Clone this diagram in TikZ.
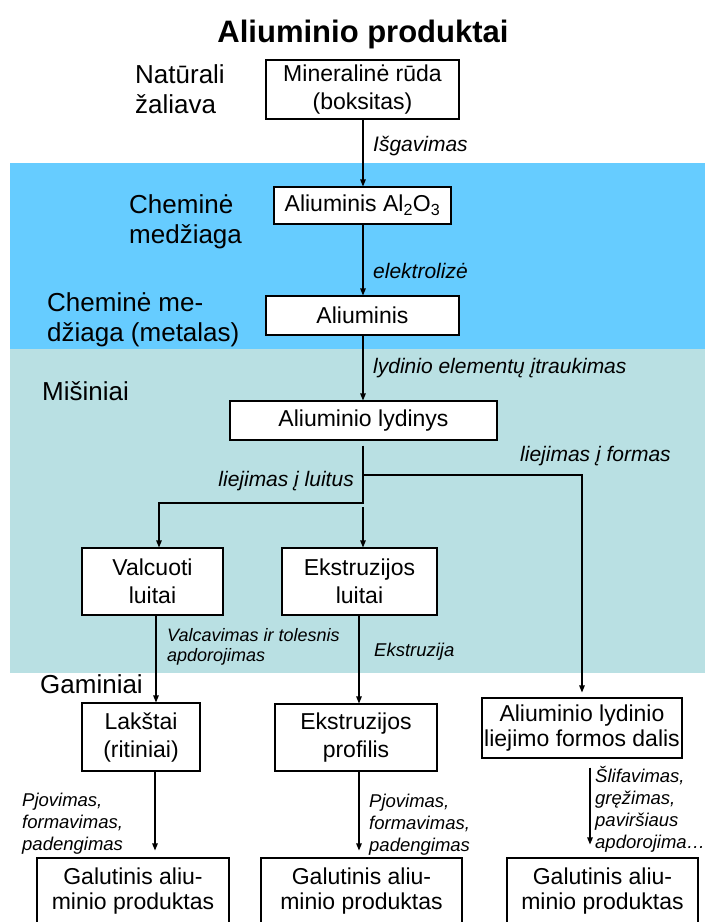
\documentclass[tikz,border=0pt]{standalone}
\usepackage{fontspec}
\setmainfont{Liberation Sans}
\usetikzlibrary{arrows.meta}
\definecolor{bandblue}{RGB}{102,204,255}
\definecolor{bandteal}{RGB}{185,224,227}
\newcommand\ttlfont{\fontsize{31}{34}\selectfont\bfseries}
\newcommand\bxfont{\fontsize{23}{28}\selectfont}
\newcommand\bxfontb{\fontsize{23}{25.5}\selectfont}
\newcommand\catfont{\fontsize{26}{30}\selectfont}
\newcommand\lblfont{\fontsize{21}{24}\selectfont\itshape}
\newcommand\smlfont{\fontsize{18.5}{22}\selectfont\itshape}
\begin{document}
\begin{tikzpicture}[x=1pt,y=-1pt,
  box/.style={draw=black, line width=1.1pt, fill=white, align=center,
              inner sep=0pt, font=\bxfont},
  boxb/.style={box, font=\bxfontb},
  cat/.style={anchor=base west, align=left, inner sep=0pt, font=\catfont},
  lbl/.style={anchor=base west, align=left, inner sep=0pt, font=\lblfont},
  sml/.style={anchor=base west, align=left, inner sep=0pt, font=\smlfont},
  conn/.style={line width=1.1pt},
  arr/.style={conn, -{Triangle[length=7pt,width=5.5pt]}}]
\useasboundingbox (0,0) rectangle (705,922);

% background bands
\fill[bandblue] (10,163) rectangle (705,349);
\fill[bandteal] (10,349) rectangle (705,673);

% title
\node[anchor=base, inner sep=0pt, font=\ttlfont] (title) at (363,42) {Aliuminio produktai};

% stage labels on the left (base = last line)
\node[cat] (c1) at (135,113.3) {Natūrali\\žaliava};
\node[cat] (c2) at (129,243) {Cheminė\\medžiaga};
\node[cat] (c3) at (47,341.7) {Cheminė me-\\džiaga (metalas)};
\node[cat] (c4) at (42,400.7) {Mišiniai};
\node[cat] (c5) at (40,693) {Gaminiai};

% boxes
\node[box, minimum width=193pt, minimum height=59pt] (ore) at (362.5,89.5) {Mineralinė rūda\\(boksitas)};
\node[box, minimum width=177pt, minimum height=37pt] (alo) at (362.5,205.5) {Aliuminis Al\textsubscript{2}O\textsubscript{3}};
\node[box, minimum width=193pt, minimum height=39pt] (al) at (362.5,315.5) {Aliuminis};
\node[box, minimum width=267pt, minimum height=39pt] (alloy) at (363.5,420.5) {Aliuminio lydinys};
\node[box, minimum width=141pt, minimum height=67pt] (valc) at (152.5,581.5) {Valcuoti\\luitai};
\node[box, minimum width=155pt, minimum height=67pt] (ekl) at (359.5,581.5) {Ekstruzijos\\luitai};
\node[box, minimum width=118pt, minimum height=68pt] (lak) at (141,737) {Lakštai\\(ritiniai)};
\node[box, minimum width=162pt, minimum height=67pt] (prof) at (356,737.5) {Ekstruzijos\\profilis};
\node[boxb, minimum width=200pt, minimum height=60pt] (lf) at (582,728) {Aliuminio lydinio\\liejimo formos dalis};
\node[boxb, minimum width=192pt, minimum height=66pt] (g1) at (133,891) {Galutinis aliu-\\minio produktas};
\node[boxb, minimum width=201pt, minimum height=66pt] (g2) at (361.5,891) {Galutinis aliu-\\minio produktas};
\node[boxb, minimum width=191pt, minimum height=66pt] (g3) at (602.5,891) {Galutinis aliu-\\minio produktas};

% guide coordinates for connector columns
\coordinate (mainx) at (363,0);
\coordinate (valx) at (159,0);
\coordinate (lakx) at (156,0);
\coordinate (g1x) at (155,0);
\coordinate (profx) at (359,0);
\coordinate (g3x) at (590,0);
\coordinate (splitA) at (363,475);
\coordinate (splitB) at (363,503);
\coordinate (restart) at (363,507);

% connectors
\draw[arr] (ore.south -| mainx) -- (alo.north -| mainx);
\draw[arr] (alo.south -| mainx) -- (al.north -| mainx);
\draw[arr] (al.south -| mainx) -- (alloy.north -| mainx);
\draw[arr] ([yshift=-5pt]alloy.south -| mainx) -- (splitB) -| (valc.north -| valx);
\draw[arr, shorten >=5pt] (splitA) -| (lf.north);
\draw[arr] (restart) -- (ekl.north -| mainx);
\draw[arr] (valc.south -| lakx) -- (lak.north -| lakx);
\draw[arr] (ekl.south -| profx) -- (prof.north -| profx);
\draw[arr, shorten >=7pt] (lak.south -| g1x) -- (g1.north -| g1x);
\draw[arr, shorten >=7pt] (prof.south -| profx) -- (g2.north -| profx);
\draw[arr, shorten <=9pt, shorten >=13pt] (lf.south -| g3x) -- (g3.north -| g3x);

% connector labels (base = last line)
\node[lbl] (l1) at (373,151.7) {Išgavimas};
\node[lbl] (l2) at (373,278.3) {elektrolizė};
\node[lbl] (l3) at (373,373) {lydinio elementų įtraukimas};
\node[lbl] (l4) at (520,461) {liejimas į formas};
\node[lbl, anchor=base east] (l5) at (354,486.7) {liejimas į luitus};
\node[sml, font=\fontsize{18}{20}\selectfont\itshape] (l6) at (167,661) {Valcavimas ir tolesnis\\apdorojimas};
\node[sml] (l7) at (374,656.7) {Ekstruzija};
\node[sml] (l8) at (22,850.7) {Pjovimas,\\formavimas,\\padengimas};
\node[sml] (l9) at (369,851) {Pjovimas,\\formavimas,\\padengimas};
\node[sml] (l10) at (595,848) {Šlifavimas,\\gręžimas,\\paviršiaus\\apdorojima…};
\end{tikzpicture}
\end{document}
